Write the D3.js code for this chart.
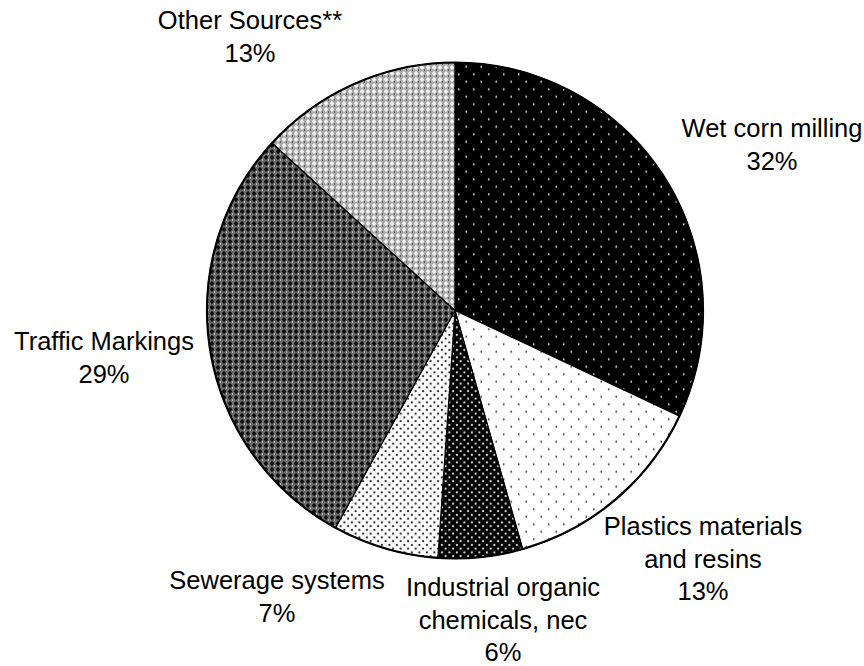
<!DOCTYPE html>
<html>
<head>
<meta charset="utf-8">
<script src="https://cdn.jsdelivr.net/npm/d3@7"></script>
<style>
  html, body { margin: 0; padding: 0; background: #fff; }
  svg { display: block; }
  text { font-family: "Liberation Sans", Arial, sans-serif; font-size: 25.5px; fill: #000; }
</style>
</head>
<body>
<script>
// Data (clockwise from 12 o'clock)
const categories = ["Wet corn milling", "Plastics materials and resins", "Industrial organic chemicals, nec", "Sewerage systems", "Traffic Markings", "Other Sources**"];
const values = [32.0, 13.6, 5.5, 6.9, 28.8, 13.2];
const pctLabels = ["32%", "13%", "6%", "7%", "29%", "13%"];
const labelLines = [
  ["Wet corn milling"],
  ["Plastics materials", "and resins"],
  ["Industrial organic", "chemicals, nec"],
  ["Sewerage systems"],
  ["Traffic Markings"],
  ["Other Sources**"]
];
const patternIds = ["pWet", "pPlastics", "pIndustrial", "pSewer", "pTraffic", "pOther"];

const W = 864, H = 666;
const cx = 455, cy = 310.5, R = 248;

const svg = d3.select("body").append("svg").attr("width", W).attr("height", H);
const defs = svg.append("defs");

function dotPattern(id, size, bg, dot, r) {
  const p = defs.append("pattern").attr("id", id).attr("patternUnits", "userSpaceOnUse")
    .attr("width", size).attr("height", size);
  p.append("rect").attr("width", size).attr("height", size).attr("fill", bg);
  [[size * 0.25, size * 0.25], [size * 0.75, size * 0.75]].forEach(([x, y]) =>
    p.append("circle").attr("cx", x).attr("cy", y).attr("r", r).attr("fill", dot));
}
dotPattern("pWet", 15, "#000", "#e8e8e8", 0.95);
dotPattern("pPlastics", 15, "#fff", "#333", 0.95);
dotPattern("pIndustrial", 7.5, "#000", "#d8d8d8", 1.1);
dotPattern("pSewer", 7.5, "#fff", "#333", 1.15);

function crossPattern(id, bg, cross, pix) {
  const s = 6;
  const p = defs.append("pattern").attr("id", id).attr("patternUnits", "userSpaceOnUse")
    .attr("width", s).attr("height", s);
  p.append("rect").attr("width", s).attr("height", s).attr("fill", bg);
  p.append("rect").attr("x", 2).attr("y", 1).attr("width", 2).attr("height", 4).attr("fill", cross);
  p.append("rect").attr("x", 1).attr("y", 2).attr("width", 4).attr("height", 2).attr("fill", cross);
  p.append("rect").attr("x", 5).attr("y", 5).attr("width", 1).attr("height", 1).attr("fill", pix);
}
crossPattern("pTraffic", "#6a6a6a", "#0a0a0a", "#fff");
crossPattern("pOther", "#a8a8a8", "#f5f5f5", "#1a1a1a");

const pie = d3.pie().sort(null).value(d => d)(values);
const arc = d3.arc().innerRadius(0).outerRadius(R);

const g = svg.append("g").attr("transform", `translate(${cx},${cy})`);
g.selectAll("path.slice").data(pie).join("path")
  .attr("class", "slice")
  .attr("d", arc)
  .attr("fill", (d, i) => `url(#${patternIds[i]})`)
  .attr("stroke", "#000")
  .attr("stroke-width", 1.2)
  .attr("stroke-linejoin", "round");
g.append("circle").attr("r", R).attr("fill", "none").attr("stroke", "#000").attr("stroke-width", 2.2);

// Label anchor positions (center x, first baseline)
const labelPos = [[772, 137], [703, 535], [503, 596], [277, 589], [104, 350], [250, 29]];
const lineH = 32.5;
labelLines.forEach((lines, i) => {
  const [x, y] = labelPos[i];
  const t = svg.append("text").attr("text-anchor", "middle");
  lines.concat([pctLabels[i]]).forEach((ln, k) => {
    t.append("tspan").attr("x", x).attr("y", y + k * lineH).text(ln);
  });
});
</script>
</body>
</html>
